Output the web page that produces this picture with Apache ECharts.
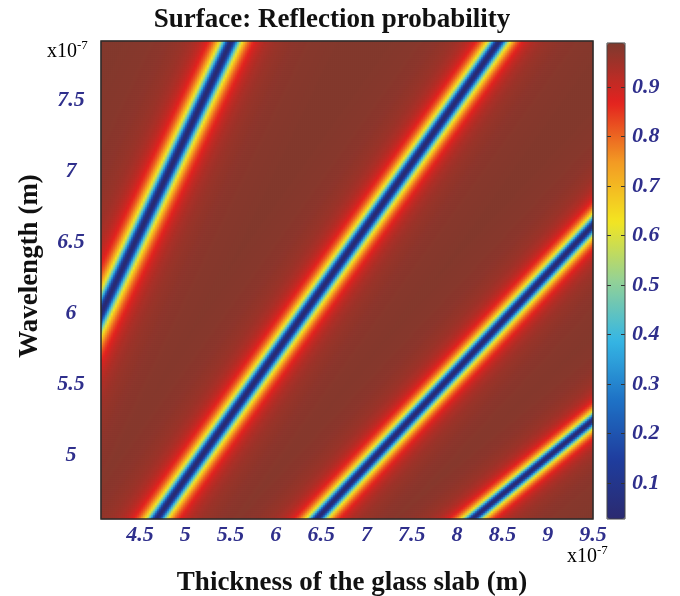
<!DOCTYPE html>
<html>
<head>
<meta charset="utf-8">
<script src="https://cdn.jsdelivr.net/npm/echarts@6/dist/echarts.min.js"></script>
<style>html,body{margin:0;padding:0;background:#fff;}#c{width:680px;height:596px;}</style>
</head>
<body>
<div id="c"></div>
<script>
// ---- data (units: x10^-7 m) ----
const thicknessRange = [4.07, 9.5];
const wavelengthRange = [4.55, 7.92];
const thicknessTicks = [4.5, 5, 5.5, 6, 6.5, 7, 7.5, 8, 8.5, 9, 9.5];
const wavelengthTicks = [5, 5.5, 6, 6.5, 7, 7.5];
const colorbarTicks = [0.1, 0.2, 0.3, 0.4, 0.5, 0.6, 0.7, 0.8, 0.9];
// centre lines of the low-reflection bands: [thickness, wavelength] at both ends
const bandStart = [[4.07, 6.00], [4.754, 4.613], [6.542, 4.613], [8.286, 4.613]];
const bandEnd   = [[5.461, 7.857], [8.396, 7.857], [9.50, 6.623], [9.50, 5.248]];
const probabilityRange = [0.027, 0.989];   // colour bar extent (min in bands, max between)
const bandHalfWidth = 0.097;               // horizontal distance where value reaches ~0.5

// ---- build the surface grid from the read bands ----
const NX = 246, NY = 239;
const dx = (thicknessRange[1] - thicknessRange[0]) / NX;
const dy = (wavelengthRange[1] - wavelengthRange[0]) / NY;
const cells = [];
for (let j = 0; j < NY; j++) {
  const lam = wavelengthRange[0] + (j + 0.5) * dy;
  for (let i = 0; i < NX; i++) {
    const d = thicknessRange[0] + (i + 0.5) * dx;
    let dist = Infinity;
    for (let b = 0; b < bandStart.length; b++) {
      const [d1, l1] = bandStart[b], [d2, l2] = bandEnd[b];
      const dc = d1 + (lam - l1) * (d2 - d1) / (l2 - l1);
      dist = Math.min(dist, Math.abs(d - dc));
    }
    const a = dist / bandHalfWidth;
    const v = probabilityRange[0] + (probabilityRange[1] - probabilityRange[0]) * a * a / (1 + a * a);
    cells.push([i, j, v]);
  }
}
const xCats = Array.from({length: NX}, (_, i) => i);
const yCats = Array.from({length: NY}, (_, j) => j);

const jetColors = ['#2b2a70', '#1f3d9e', '#1e72c6', '#35b6e4', '#93d196', '#f3e521', '#f39a23', '#e3221f', '#7e3a2e'];

// ---- layout ----
const P = {left: 101, top: 41, width: 492, height: 478};
const pxX = P.width / (thicknessRange[1] - thicknessRange[0]);
const pxY = P.height / (wavelengthRange[1] - wavelengthRange[0]);
const xMinTick = 4.0, yMinTick = 4.5;
const extL = (thicknessRange[0] - xMinTick) * pxX;
const extB = (wavelengthRange[0] - yMinTick) * pxY;
const CB = {left: 607, top: 43, width: 18, height: 476};
const pxC = CB.height / (probabilityRange[1] - probabilityRange[0]);

const tickFont = {fontFamily: 'Liberation Serif', fontSize: 22, fontWeight: 'bold', fontStyle: 'italic', color: '#2f2f8c'};
const has = (arr, v) => arr.some(t => Math.abs(t - v) < 1e-6);
const cbAxisBase = {type: 'value', gridIndex: 2, z: 20, min: 0, max: probabilityRange[1], interval: 0.1,
  axisLine: {show: false}, splitLine: {show: false}};
const cbTickLine = {color: '#333', width: 1};

const chart = echarts.init(document.getElementById('c'), null, {renderer: 'canvas'});
chart.setOption({
  animation: false,
  backgroundColor: '#ffffff',
  grid: [
    {left: P.left, top: P.top, width: P.width, height: P.height, show: false},
    {left: P.left - extL, top: P.top, width: P.width + extL, height: P.height + extB, show: false},
    {left: CB.left, top: CB.top, width: CB.width, height: probabilityRange[1] * pxC, show: false}
  ],
  xAxis: [
    {type: 'category', gridIndex: 0, data: xCats, show: false},
    {type: 'value', gridIndex: 1, min: xMinTick, max: thicknessRange[1], interval: 0.5,
     offset: -extB, axisLine: {show: false}, axisTick: {show: false}, splitLine: {show: false},
     axisLabel: Object.assign({margin: 5, formatter: v => has(thicknessTicks, v) ? String(+v.toFixed(1)) : ''}, tickFont)},
    {type: 'value', gridIndex: 2, show: false, min: 0, max: 1}
  ],
  yAxis: [
    {type: 'category', gridIndex: 0, data: yCats, show: false},
    {type: 'value', gridIndex: 1, min: yMinTick, max: wavelengthRange[1], interval: 0.5,
     offset: -extL, axisLine: {show: false}, axisTick: {show: false}, splitLine: {show: false},
     axisLabel: Object.assign({margin: 30, align: 'center', formatter: v => has(wavelengthTicks, v) ? String(+v.toFixed(1)) : ''}, tickFont)},
    Object.assign({}, cbAxisBase, {position: 'right', axisTick: {show: false},
     axisLabel: Object.assign({margin: 7, align: 'left', formatter: v => has(colorbarTicks, v) ? (+v).toFixed(1) : ''}, tickFont)}),
    Object.assign({}, cbAxisBase, {position: 'left', axisLabel: {show: false},
     axisTick: {show: true, inside: true, length: 4, lineStyle: cbTickLine, customValues: colorbarTicks}}),
    Object.assign({}, cbAxisBase, {position: 'left', offset: -CB.width, axisLabel: {show: false},
     axisTick: {show: true, inside: false, length: 4, lineStyle: cbTickLine, customValues: colorbarTicks}})
  ],
  visualMap: {
    type: 'continuous', seriesIndex: 0, dimension: 2,
    min: probabilityRange[0], max: probabilityRange[1],
    left: CB.left, top: CB.top, itemWidth: CB.width, itemHeight: CB.height,
    padding: 0, calculable: false, text: null, showLabel: false, hoverLink: false, z: 4,
    inRange: {color: jetColors}
  },
  series: [
    {type: 'heatmap', xAxisIndex: 0, yAxisIndex: 0, data: cells, progressive: 0, silent: true,
     itemStyle: {borderWidth: 0}, emphasis: {disabled: true}}
  ],
  graphic: [
    {type: 'rect', z: 100, silent: true, shape: {x: P.left, y: P.top, width: P.width, height: P.height},
     style: {fill: 'none', stroke: '#2a2a2a', lineWidth: 1.5}},
    {type: 'rect', z: 100, silent: true, shape: {x: CB.left, y: CB.top, width: CB.width, height: CB.height},
     style: {fill: 'none', stroke: '#444', lineWidth: 1}},
    {type: 'text', z: 100, x: 332, y: 20, style: {text: 'Surface: Reflection probability', fontFamily: 'Liberation Serif', fontSize: 27, fontWeight: 'bold', fill: '#111', align: 'center', verticalAlign: 'middle'}},
    {type: 'text', z: 100, x: 352, y: 583, style: {text: 'Thickness of the glass slab (m)', fontFamily: 'Liberation Serif', fontSize: 27, fontWeight: 'bold', fill: '#111', align: 'center', verticalAlign: 'middle'}},
    {type: 'text', z: 100, x: 30, y: 266, rotation: Math.PI / 2, style: {text: 'Wavelength (m)', fontFamily: 'Liberation Serif', fontSize: 27, fontWeight: 'bold', fill: '#111', align: 'center', verticalAlign: 'middle'}},
    {type: 'text', z: 100, x: 47, y: 52, style: {text: '{b|x10}{s|-7}', fontFamily: 'Liberation Serif', verticalAlign: 'middle', align: 'left',
      rich: {b: {fontFamily: 'Liberation Serif', fontSize: 20, color: '#222'}, s: {fontFamily: 'Liberation Serif', fontSize: 13, color: '#222', verticalAlign: 'top', padding: [0, 0, 12, 0]}}}},
    {type: 'text', z: 100, x: 567, y: 557, style: {text: '{b|x10}{s|-7}', fontFamily: 'Liberation Serif', verticalAlign: 'middle', align: 'left',
      rich: {b: {fontFamily: 'Liberation Serif', fontSize: 20, color: '#222'}, s: {fontFamily: 'Liberation Serif', fontSize: 13, color: '#222', verticalAlign: 'top', padding: [0, 0, 12, 0]}}}}
  ]
});
</script>
</body>
</html>
